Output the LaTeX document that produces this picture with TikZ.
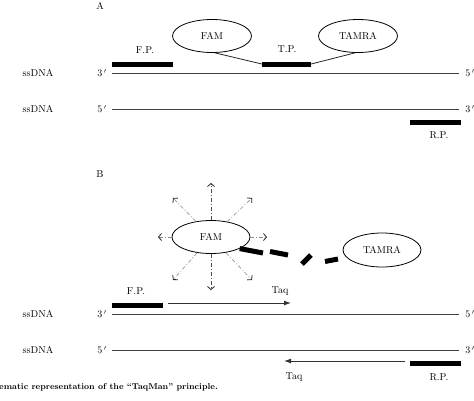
\documentclass[tikz,border=0pt]{standalone}
\usetikzlibrary{arrows.meta,shapes.geometric}
\begin{document}
\begin{tikzpicture}[x=1pt,y=-1pt,
  lbl/.style={font=\fontsize{10}{12}\selectfont, inner sep=0pt},
  oval/.style={ellipse, draw, line width=0.8pt, minimum width=79pt, minimum height=33pt, inner sep=0pt, font=\fontsize{10}{12}\selectfont},
  bar/.style={rectangle, fill=black, inner sep=0pt, minimum height=5pt},
  strand/.style={draw=black!75, line width=1pt},
  link/.style={draw=black!85, line width=0.8pt},
  ray/.style={draw=black!45, line width=0.6pt, dash pattern=on 4pt off 2pt on 1pt off 2pt, -{Straight Barb[length=3pt,width=7pt,line width=0.8pt,black!85]}},
  vray/.style={ray, draw=black!70},
  taq/.style={draw=black!80, line width=0.9pt, -{Latex[length=7pt,width=5pt]}},
  blob/.style={line width=5pt, draw=black}
]
\useasboundingbox (0,0) rectangle (474,400);
% ---------- Panel A ----------
\node[lbl] (labA) at (100,6) {A};
\node[oval] (famA) at (212,36) {FAM};
\node[oval] (tamA) at (358,36) {TAMRA};
\node[bar, minimum width=61pt] (fpA) at (142.5,64) {};
\node[lbl] (fpAl) at (145,50) {F.P.};
\node[bar, minimum width=49pt] (tpA) at (286.5,64) {};
\node[lbl] (tpAl) at (287,49) {T.P.};
\draw[link] (famA.-80) -- (tpA.west);
\draw[link] (tpA.east) -- (tamA.-100);

\node[lbl] (ssA1) at (38,73) {ssDNA};
\node[lbl] (pA1l) at (102,73) {3$\,'$};
\node[lbl] (pA1r) at (470,73) {5$\,'$};
\coordinate (sA1a) at (112,73); \coordinate (sA1b) at (459,73);
\draw[strand] (sA1a) -- (sA1b);

\node[lbl] (ssA2) at (38,109) {ssDNA};
\node[lbl] (pA2l) at (102,109) {5$\,'$};
\node[lbl] (pA2r) at (470,109) {3$\,'$};
\coordinate (sA2a) at (112,109); \coordinate (sA2b) at (459,109);
\draw[strand] (sA2a) -- (sA2b);

\node[bar, minimum width=51pt] (rpA) at (435.5,122) {};
\node[lbl] (rpAl) at (439,135) {R.P.};

% ---------- Panel B ----------
\node[lbl] (labB) at (100,174) {B};
\node[oval, minimum width=78pt] (famB) at (211,237) {FAM};
\node[oval, minimum width=78pt, minimum height=34pt] (tamB) at (382,250) {TAMRA};

\coordinate (rU) at (211,183);
\coordinate (rD) at (211,290);
\coordinate (rL) at (158,237);
\coordinate (rR) at (267,237);
\coordinate (rUL) at (173,198);
\coordinate (rUR) at (252,198);
\coordinate (rDL) at (173,280);
\coordinate (rDR) at (252,280);
\draw[vray] (famB) -- (rU);
\draw[vray] (famB) -- (rD);
\draw[ray] (famB) -- (rL);
\draw[ray] (famB) -- (rR);
\draw[ray] (famB) -- (rUL);
\draw[ray] (famB) -- (rUR);
\draw[ray] (famB) -- (rDL);
\draw[ray] (famB) -- (rDR);

% broken link FAM -- TAMRA
\coordinate (k1) at (263,253);
\coordinate (k2a) at (270,251.5);
\coordinate (k2b) at (288,255);
\coordinate (k3a) at (302,264);
\coordinate (k3b) at (311,255);
\coordinate (k4a) at (325,261.5);
\coordinate (k4b) at (338,259);
\draw[blob] (famB.-22) -- (k1);
\draw[blob] (k2a) -- (k2b);
\draw[blob] (k3a) -- (k3b);
\draw[blob] (k4a) -- (k4b);

\node[lbl] (fpBl) at (136,291) {F.P.};
\node[bar, minimum width=51pt] (fpB) at (137.5,305) {};
\coordinate (tq1a) at (168,303); \coordinate (tq1b) at (291,303);
\draw[taq] (tq1a) -- (tq1b);
\node[lbl] (tq1l) at (280,291) {Taq};

\node[lbl] (ssB1) at (38,314) {ssDNA};
\node[lbl] (pB1l) at (102,314) {3$\,'$};
\node[lbl] (pB1r) at (470,314) {5$\,'$};
\coordinate (sB1a) at (112,314); \coordinate (sB1b) at (459,314);
\draw[strand] (sB1a) -- (sB1b);

\node[lbl] (ssB2) at (38,350) {ssDNA};
\node[lbl] (pB2l) at (102,350) {5$\,'$};
\node[lbl] (pB2r) at (470,350) {3$\,'$};
\coordinate (sB2a) at (112,350); \coordinate (sB2b) at (459,350);
\draw[strand] (sB2a) -- (sB2b);

\coordinate (tq2a) at (405,361); \coordinate (tq2b) at (284,361);
\draw[taq] (tq2a) -- (tq2b);
\node[bar, minimum width=51pt] (rpB) at (435.5,363) {};
\node[lbl] (tq2l) at (294,377) {Taq};
\node[lbl] (rpBl) at (439,377) {R.P.};

% caption (cut at left edge)
\begin{scope}
\clip (0,0) rectangle (474,400);
\node[anchor=east, inner sep=0pt, font=\fontsize{8.5}{10}\selectfont\bfseries] (cap) at (218,387) {ematic representation of the ``TaqMan'' principle.};
\end{scope}
\end{tikzpicture}
\end{document}
